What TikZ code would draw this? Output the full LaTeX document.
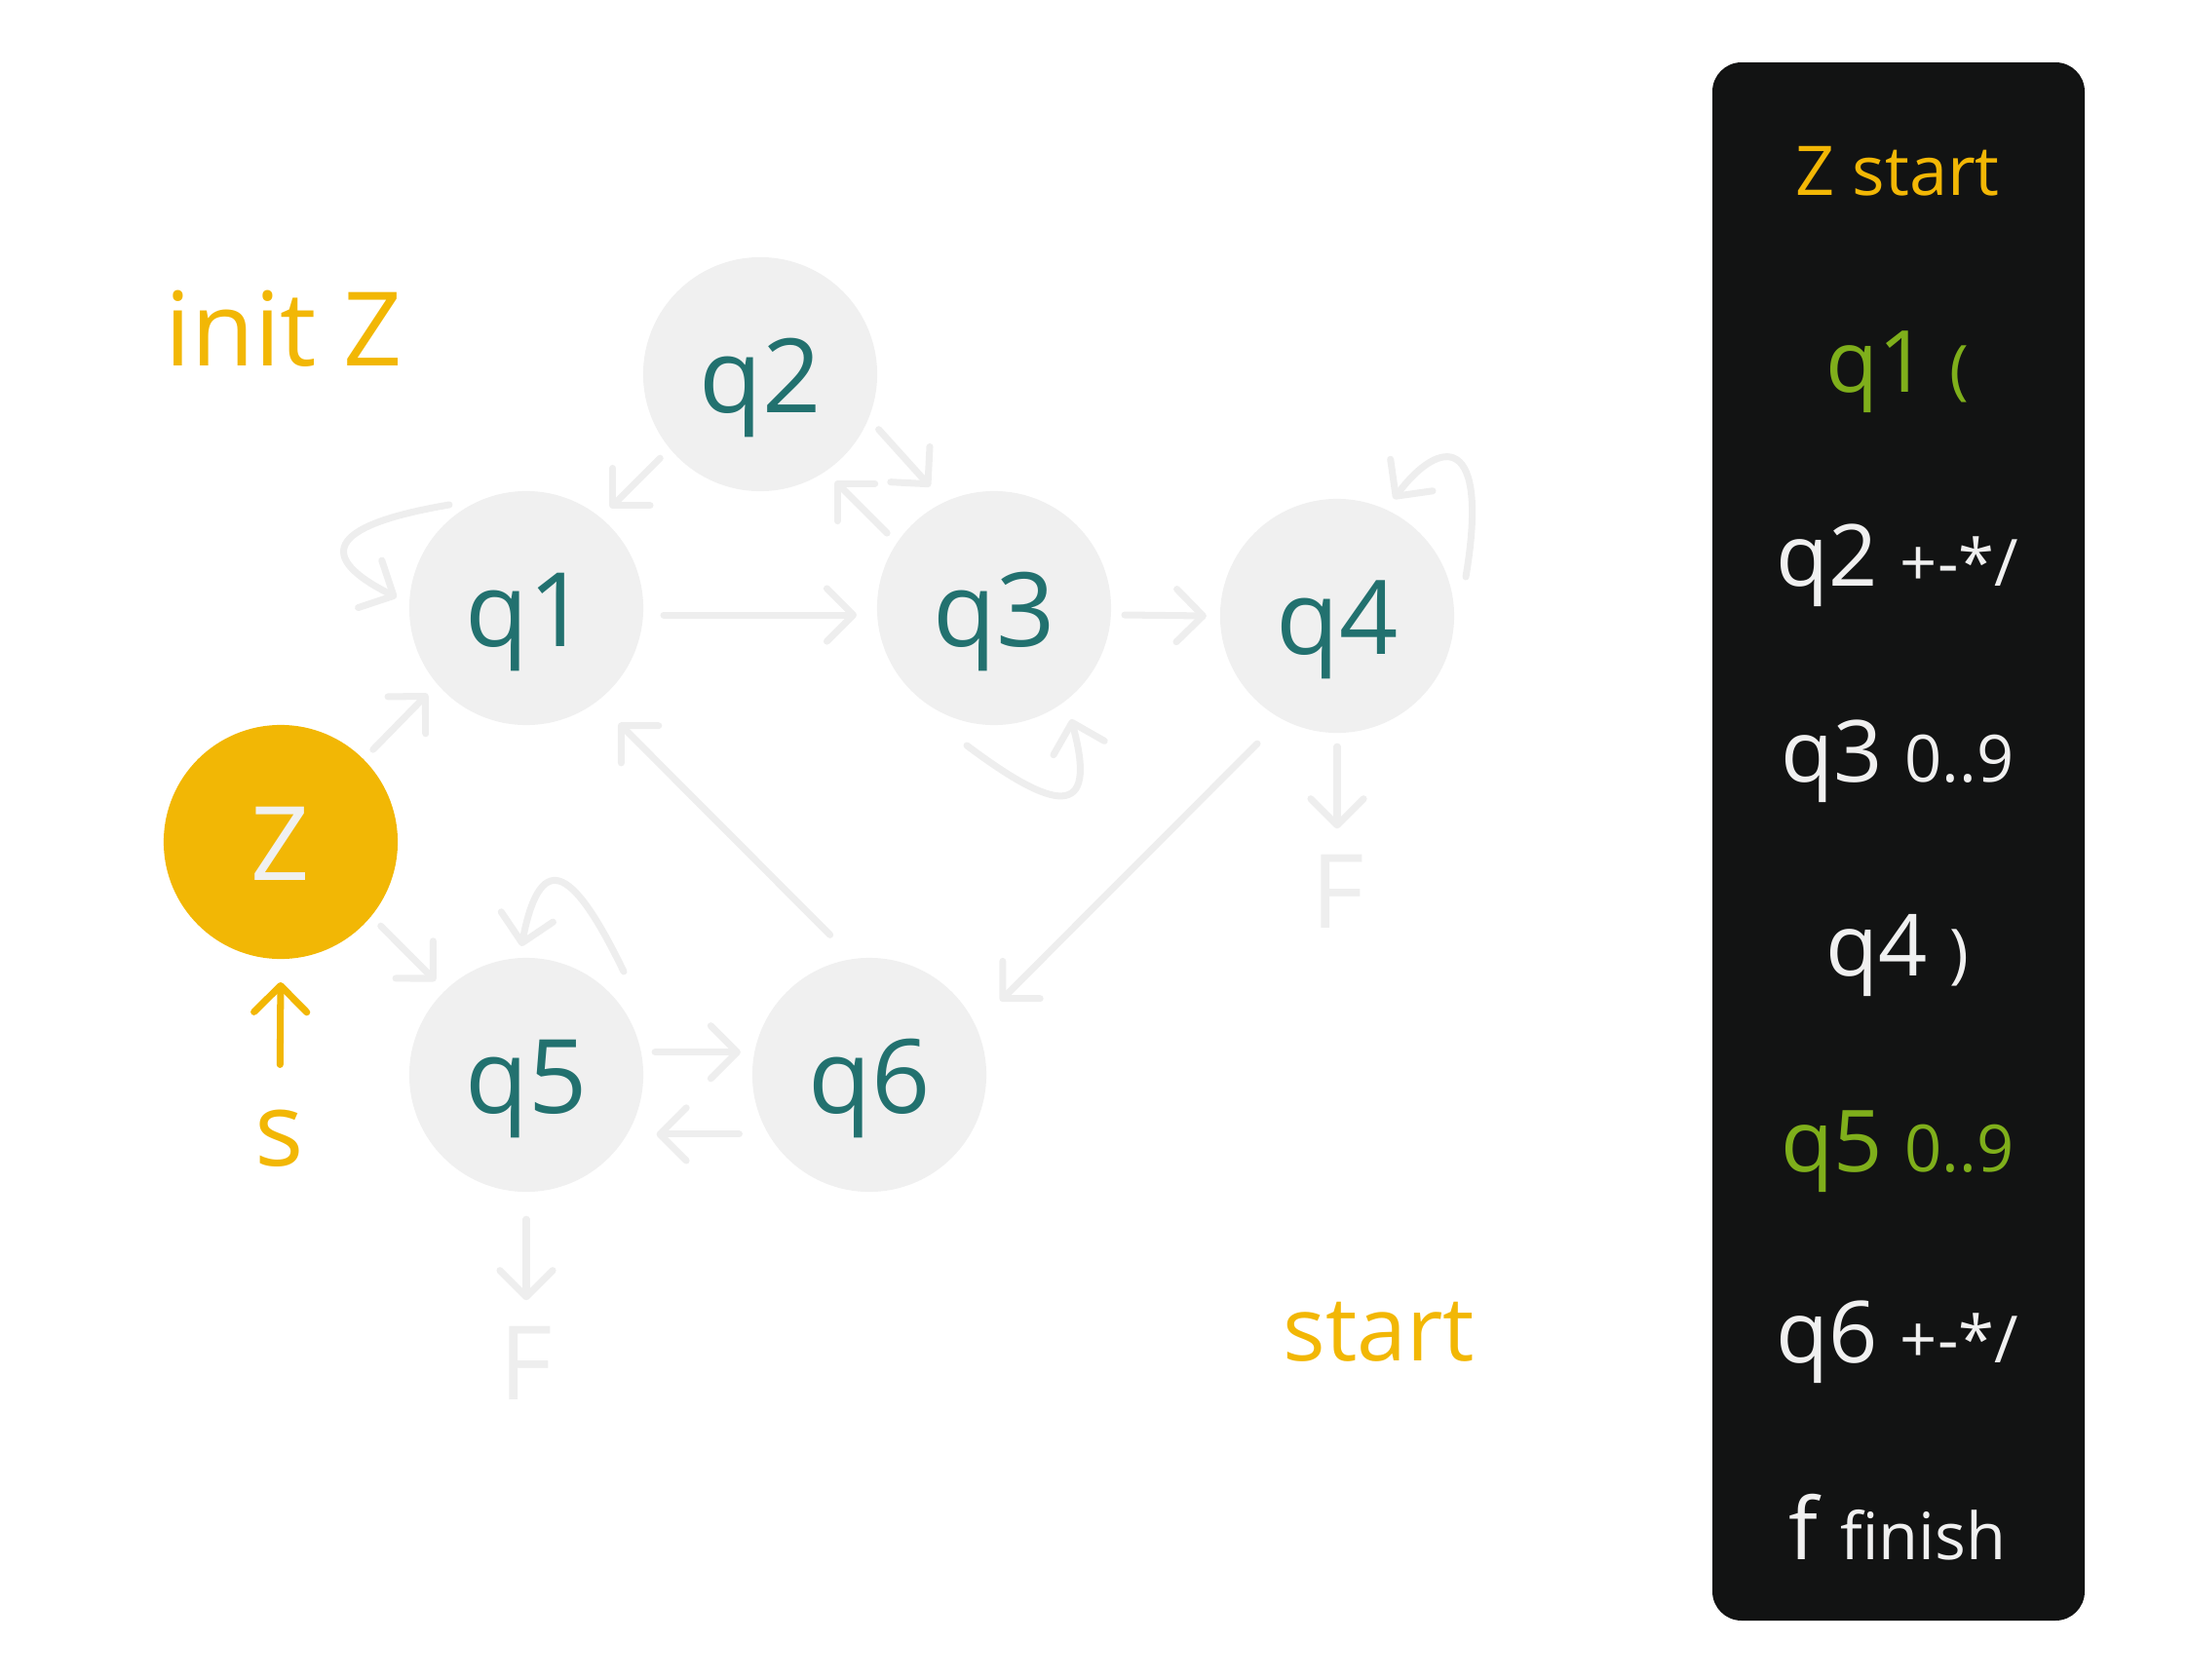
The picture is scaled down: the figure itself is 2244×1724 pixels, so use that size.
\documentclass[tikz,border=0pt]{standalone}
\usepackage{fontspec}
\setmainfont{Open Sans}
\usetikzlibrary{arrows.meta, positioning, calc}
\definecolor{zgold}{HTML}{F2B705}
\definecolor{qteal}{HTML}{22716F}
\definecolor{qfill}{HTML}{F0F0F0}
\definecolor{wiregray}{HTML}{EEEEEE}
\definecolor{panelbg}{HTML}{121313}
\definecolor{okgreen}{HTML}{7FAF1B}
\newcommand{\bigtxt}{\fontsize{30}{36}\selectfont}
\newcommand{\rowbig}{\fontsize{25}{30}\selectfont}
\newcommand{\rowsmall}{\fontsize{19}{23}\selectfont}

\begin{document}
\begin{tikzpicture}[
    x=0.01cm, y=-0.01cm,
    every node/.style={inner sep=0pt},
    qnode/.style={circle, fill=qfill, minimum size=2.4cm, outer sep=4pt, text=qteal,
        font=\bigtxt, text height=22.5pt, text depth=0pt},
    wire/.style={draw=wiregray, line width=2pt, line cap=round,
        -{Straight Barb[length=7.7pt, width=15.4pt, round]}},
    flab/.style={text=wiregray, font=\bigtxt, outer sep=7.5pt, anchor=base},
    row/.style={anchor=base, text=qfill, font=\rowbig}
]
\useasboundingbox (0,0) rectangle (2244,1724);

% states
\node[qnode, fill=zgold, text=qfill] (Z) at (288,864) {Z};
\node[qnode] (q1) at (540,624) {q1};
\node[qnode] (q2) at (780,384) {q2};
\node[qnode] (q3) at (1020,624) {q3};
\node[qnode] (q4) at (1372,632) {q4};
\node[qnode] (q5) at (540,1103) {q5};
\node[qnode] (q6) at (892,1103) {q6};

% labels
\node[font=\bigtxt, text=zgold, anchor=base west] (initz) at (169,375) {init Z};
\node[font=\fontsize{26}{31}\selectfont, text=zgold, anchor=base west] (startlab) at (1316,1396) {start};
\node[font=\bigtxt, text=zgold, anchor=base] (slab) at (287,1196) {s};
\node[flab] (f4) at (1373,952) {F};
\node[flab] (f5) at (540,1436) {F};

% start arrow
\draw[wire, draw=zgold, shorten <=12.9pt, shorten >=2.8pt] (slab.north) -- (Z.south);

% transitions
\draw[wire] (Z.45) -- (q1.221);
\draw[wire] (Z.-40) -- (q5.134);
\draw[wire] (q2.220) -- (q1.50);
\draw[wire, shorten >=2pt] (q2.-25) -- (q3.117);
\draw[wire] (q3.145) -- (q2.-55);
\draw[wire, shorten <=2pt, shorten >=2pt] (q1.-3) -- (q3.183);
\draw[wire] (q3.-3) -- (q4.180);
\draw[wire, shorten <=6pt, shorten >=6pt] (q4.240) -- (q6.27);
\draw[wire, shorten <=5pt, shorten >=5pt] (q6.102) -- (q1.-52);
\draw[wire] (q5.10) -- (q6.170);
\draw[wire, shorten <=4pt, shorten >=4pt] (q6.207) -- (q5.-27);
\draw[wire] (q4.south) -- (q4.south |- f4.north);
\draw[wire, shorten <=4pt] (q5.south) -- (q5.south |- f5.north);

% loops
\draw[wire] ($(q1)+(-79,-106)$) .. controls +(-130,22) and +(-80,-40) .. ($(q1)+(-133,-11)$);
\draw[wire] ($(q3)+(-28,141)$) .. controls +(88,66) and +(29,106) .. ($(q3)+(79,114)$);
\draw[wire] ($(q4)+(132,-40)$) .. controls +(25,-148) and +(48,-64) .. ($(q4)+(58,-120)$);
\draw[wire] ($(q5)+(100,-106)$) .. controls +(-48,-99) and +(21,-108) .. ($(q5)+(-5,-132)$);

% legend panel
\fill[panelbg, rounded corners=8.5pt] (1757,64) rectangle (2139,1663);
\node[row, text=zgold, font=\fontsize{20}{24}\selectfont] (p0) at (1947,200) {Z start};
\node[row, text=okgreen] (p1) at (1947,402) {q1 \rowsmall (};
\node[row] (p2) at (1947,601) {q2 \rowsmall +-*/};
\node[row] (p3) at (1947,802) {q3 \rowsmall 0..9};
\node[row] (p4) at (1947,1001) {q4 \rowsmall )};
\node[row, text=okgreen] (p5) at (1947,1202) {q5 \rowsmall 0..9};
\node[row] (p6) at (1947,1398) {q6 \rowsmall +-*/};
\node[row] (p7) at (1947,1600) {f \rowsmall finish};
\end{tikzpicture}
\end{document}
